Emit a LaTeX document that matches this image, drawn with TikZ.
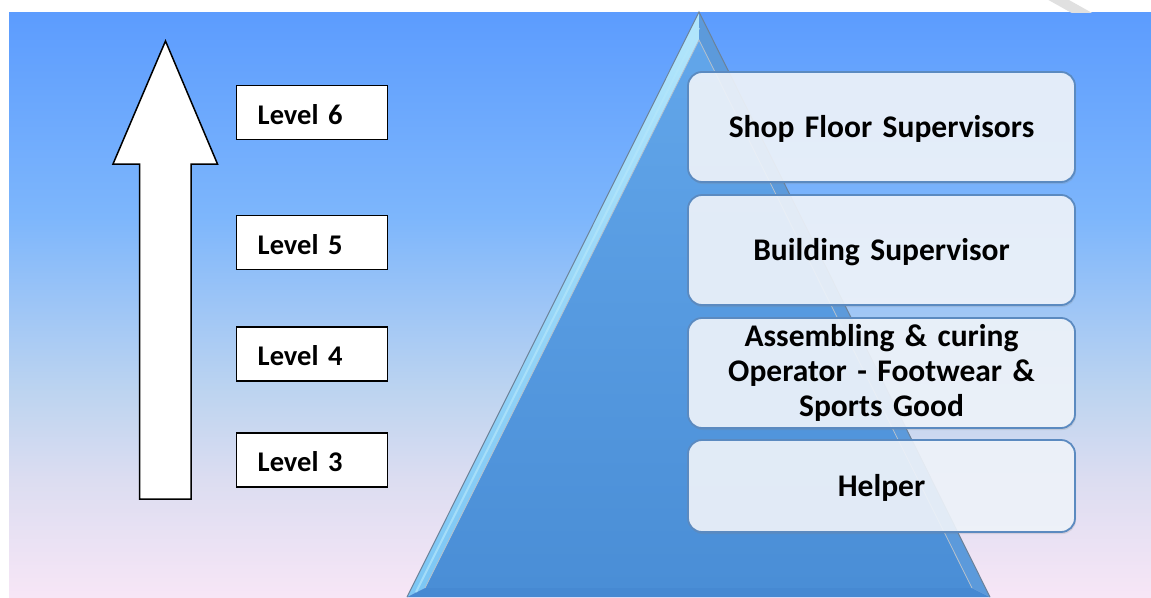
\documentclass[tikz,border=0pt]{standalone}
\usepackage{fontspec}
\setmainfont{Carlito}
\usetikzlibrary{shadows}
\definecolor{bgA}{HTML}{F7E6F6}
\definecolor{bgB}{HTML}{DCDDF1}
\definecolor{bgC}{HTML}{BDD4F0}
\definecolor{bgD}{HTML}{7DB6FC}
\definecolor{bgE}{HTML}{5C9CFE}
\definecolor{triTop}{HTML}{62A6EA}
\definecolor{triBot}{HTML}{4A8ED6}
\definecolor{bevTop}{HTML}{B2E6FC}
\definecolor{bevBot}{HTML}{7CC6F4}
\definecolor{bevR}{HTML}{5C9ADB}
\definecolor{bevB}{HTML}{4689D2}
\definecolor{triLine}{HTML}{6C8299}
\definecolor{boxFill}{HTML}{F0F5FC}
\definecolor{boxLine}{HTML}{5B8AC0}
\pgfdeclareverticalshading{bgsh}{100bp}{color(0bp)=(bgA); color(25bp)=(bgA); color(35bp)=(bgB); color(42.5bp)=(bgC); color(57.5bp)=(bgD); color(75bp)=(bgE); color(100bp)=(bgE)}
\pgfdeclareverticalshading{trish}{100bp}{color(0bp)=(triBot); color(25bp)=(triBot); color(75bp)=(triTop); color(100bp)=(triTop)}
\pgfdeclareverticalshading{bevsh}{100bp}{color(0bp)=(bevBot); color(25bp)=(bevBot); color(75bp)=(bevTop); color(100bp)=(bevTop)}
\begin{document}
\begin{tikzpicture}[x=1pt,y=-1pt,
  lvlbox/.style={draw=black, line width=1.5pt, fill=white, text width=109pt, inner xsep=21pt,
    inner ysep=0pt, text height=24pt, text depth=1pt,
    minimum height=54pt, align=left, font=\fontsize{28.5}{34}\selectfont\bfseries},
  rbox/.style={rounded corners=14pt, draw=boxLine, line width=1.8pt, fill=boxFill, fill opacity=0.9,
    text opacity=1, text width=380pt, minimum width=387pt, inner xsep=0pt, align=center,
    font=\fontsize{31.5}{35}\selectfont\bfseries,
    drop shadow={opacity=0.2, shadow xshift=1pt, shadow yshift=-2pt}},
  oneline/.style={text height=25pt, text depth=5pt}]
\useasboundingbox (0,0) rectangle (1151,597);
\fill[white] (0,0) rectangle (1151,597);
\shade[shading=bgsh] (9,12) rectangle (1151,597);
\begin{scope}
  \clip (0,0) rectangle (1151,12);
  \draw[line width=10pt, black!12] (1048,-6) -- (1098,22);
\end{scope}
% pyramid
\coordinate (tA) at (699,12);
\coordinate (tL) at (407,597);
\coordinate (tR) at (990,597);
\coordinate (iA) at (699,40);
\coordinate (iL) at (425,588);
\coordinate (iR) at (972,588);
\shade[shading=bevsh] (tA) -- (tL) -- (iL) -- (iA) -- cycle;
\fill[bevR] (tA) -- (iA) -- (iR) -- (tR) -- cycle;
\fill[bevB] (iL) -- (tL) -- (tR) -- (iR) -- cycle;
\shade[shading=trish] (iA) -- (iL) -- (iR) -- cycle;
\draw[white!70!cyan, line width=2pt, opacity=0.7] (699,28) -- (416,592);
\draw[triLine, line width=1pt] (tL) -- (tA) -- (tR);
\draw[triLine!50, line width=0.8pt] (iL) -- (iA) -- (iR);
% arrow
\draw[fill=white, line width=1.5pt, line join=miter]
  (165.5,41) -- (217.5,164) -- (191,164) -- (191,499) -- (139.5,499) -- (139.5,164) -- (113,164) -- cycle;
% level boxes
\node[lvlbox] (l6) at (312.2,112.5) {Level 6};
\node[lvlbox] (l5) at (312.2,242.5) {Level 5};
\node[lvlbox] (l4) at (312.2,354) {Level 4};
\node[lvlbox] (l3) at (312.2,460) {Level 3};
% job boxes
\node[rbox, oneline, minimum height=110pt] (j1) at (881.5,127) {Shop Floor Supervisors};
\node[rbox, oneline, minimum height=110pt] (j2) at (881.5,250) {Building Supervisor};
\node[rbox, minimum height=110pt] (j3) at (881.5,373) {Assembling \& curing\\Operator - Footwear \&\\Sports Good};
\node[rbox, oneline, minimum height=92pt] (j4) at (881.5,486) {Helper};
\end{tikzpicture}
\end{document}
